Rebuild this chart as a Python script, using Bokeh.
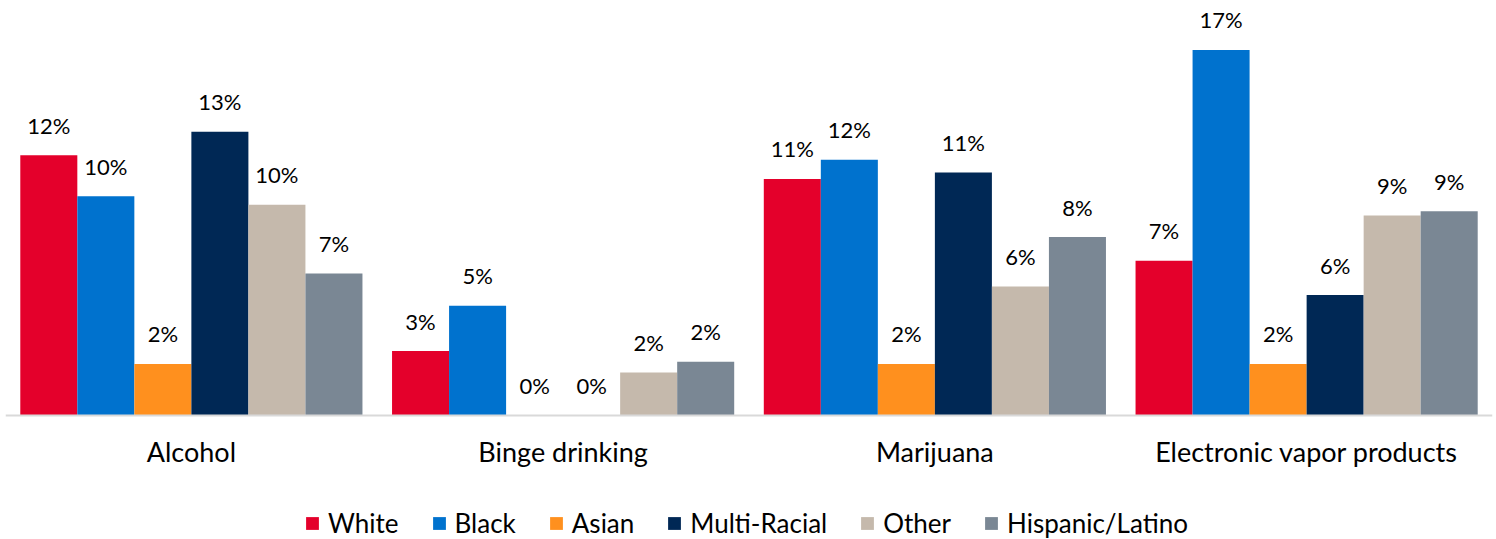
from bokeh.plotting import figure
from bokeh.models import ColumnDataSource, Legend, LegendItem, Range1d, FactorRange
from bokeh.transform import dodge
from bokeh.core.properties import value
from bokeh.embed import file_html
from bokeh.resources import INLINE

categories = ["Alcohol", "Binge drinking", "Marijuana", "Electronic vapor products"]
series = ["White", "Black", "Asian", "Multi-Racial", "Other", "Hispanic/Latino"]

white = [12.1, 3.0, 11.0, 7.2]
black = [10.2, 5.1, 11.9, 17.0]
asian = [2.4, 0.0, 2.4, 2.4]
multi = [13.2, 0.0, 11.3, 5.6]
other = [9.8, 2.0, 6.0, 9.3]
hispanic = [6.6, 2.5, 8.3, 9.5]

white_labels = ["12%", "3%", "11%", "7%"]
black_labels = ["10%", "5%", "12%", "17%"]
asian_labels = ["2%", "0%", "2%", "2%"]
multi_labels = ["13%", "0%", "11%", "6%"]
other_labels = ["10%", "2%", "6%", "9%"]
hispanic_labels = ["7%", "2%", "8%", "9%"]

colors = ["#E4002B", "#0072CE", "#FF901E", "#002855", "#C5B9AC", "#7A8794"]

all_values = [white, black, asian, multi, other, hispanic]
all_labels = [white_labels, black_labels, asian_labels, multi_labels, other_labels, hispanic_labels]

FONT = "Lato"

p = figure(
    x_range=FactorRange(*categories, range_padding=0, factor_padding=0),
    y_range=Range1d(-5.767, 18.93),
    width=1496, height=539,
    output_backend="svg", toolbar_location=None,
    min_border_left=5, min_border_right=4, min_border_top=8, min_border_bottom=0,
)
p.outline_line_color = None
p.xgrid.grid_line_color = None
p.ygrid.grid_line_color = None
p.yaxis.visible = False

bar_w = 0.1534
items = []
for i, (name, vals, labs, col) in enumerate(zip(series, all_values, all_labels, colors)):
    src = ColumnDataSource(dict(cat=categories, v=vals, lab=labs))
    off = (i - 2.5) * bar_w
    r = p.vbar(x=dodge("cat", off, range=p.x_range), top="v", bottom=0, width=bar_w, source=src,
               fill_color=col, line_color=None)
    p.text(x=dodge("cat", off, range=p.x_range), y="v", text="lab", source=src,
           text_align="center", text_baseline="alphabetic", y_offset=-30,
           text_font=value(FONT), text_font_size="22px", text_color="#000000")
    items.append(LegendItem(label=name, renderers=[r]))

ax = p.xaxis[0]
ax.fixed_location = 0
ax.axis_line_color = "#D9D9D9"
ax.axis_line_width = 2
ax.major_tick_line_color = None
ax.minor_tick_line_color = None
ax.major_tick_out = 0
ax.major_tick_in = 0
ax.major_label_standoff = 19
ax.major_label_text_font = FONT
ax.major_label_text_font_size = "27px"
ax.major_label_text_color = "#000000"

legend = Legend(items=items, orientation="horizontal", location=(299, 0),
                label_text_font=FONT, label_text_font_size="26px", label_text_color="#000000",
                glyph_width=16, glyph_height=16, label_standoff=8, spacing=32,
                padding=0, margin=0, border_line_color=None, background_fill_alpha=0)
p.add_layout(legend, "center")

open("out.html", "w").write(file_html(p, INLINE))
